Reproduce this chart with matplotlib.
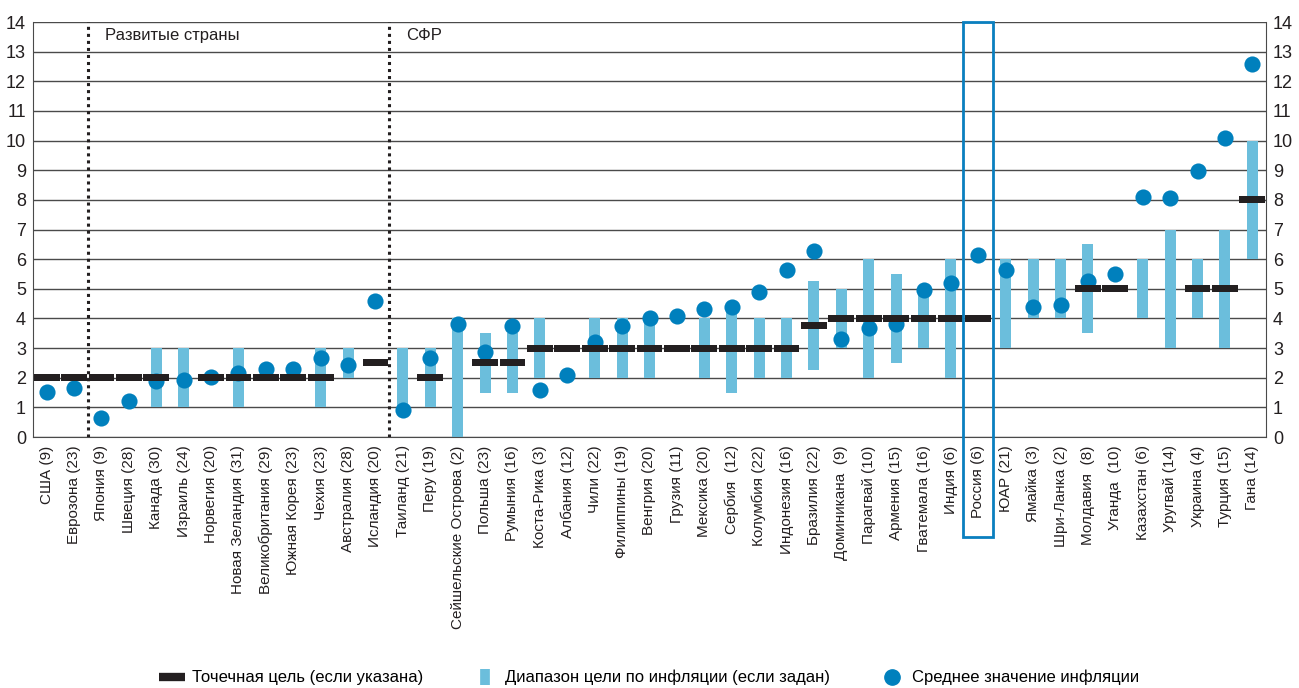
import numpy as np
import matplotlib
matplotlib.use("Agg")
from matplotlib import pyplot as plt
from matplotlib.patches import Rectangle
from matplotlib.lines import Line2D

plt.rcParams['font.family'] = ['Liberation Sans', 'DejaVu Sans']

countries = [
    'США (9)', 'Еврозона (23)', 'Япония (9)', 'Швеция (28)', 'Канада (30)',
    'Израиль (24)', 'Норвегия (20)', 'Новая Зеландия (31)', 'Великобритания (29)',
    'Южная Корея (23)', 'Чехия (23)', 'Австралия (28)', 'Исландия (20)',
    'Таиланд (21)', 'Перу (19)', 'Сейшельские Острова (2)', 'Польша (23)',
    'Румыния (16)', 'Коста-Рика (3)', 'Албания (12)', 'Чили (22)',
    'Филиппины (19)', 'Венгрия (20)', 'Грузия (11)', 'Мексика (20)',
    'Сербия  (12)', 'Колумбия (22)', 'Индонезия (16)', 'Бразилия (22)',
    'Доминикана  (9)', 'Парагвай (10)', 'Армения (15)', 'Гватемала (16)',
    'Индия (6)', 'Россия (6)', 'ЮАР (21)', 'Ямайка (3)', 'Шри-Ланка (2)',
    'Молдавия  (8)', 'Уганда  (10)', 'Казахстан (6)', 'Уругвай (14)',
    'Украина (4)', 'Турция (15)', 'Гана (14)',
]
nan = np.nan
# point target (nan = none)
target = [2, 2, 2, 2, 2, nan, 2, 2, 2, 2, 2, nan, 2.5,
          nan, 2, nan, 2.5, 2.5, 3, 3, 3, 3, 3, 3, 3, 3, 3, 3, 3.75,
          4, 4, 4, 4, 4, 4, nan, nan, nan, 5, 5, nan, nan, 5, 5, 8]
# target range (nan = none)
range_lo = [nan, nan, nan, nan, 1, 1, nan, 1, nan, nan, 1, 2, nan,
            1, 1, 0, 1.5, 1.5, 2, nan, 2, 2, 2, nan, 2, 1.5, 2, 2, 2.25,
            3, 2, 2.5, 3, 2, nan, 3, 4, 4, 3.5, nan, 4, 3, 4, 3, 6]
range_hi = [nan, nan, nan, nan, 3, 3, nan, 3, nan, nan, 3, 3, nan,
            3, 3, 4, 3.5, 3.5, 4, nan, 4, 4, 4, nan, 4, 4.5, 4, 4, 5.25,
            5, 6, 5.5, 5, 6, nan, 6, 6, 6, 6.5, nan, 6, 7, 6, 7, 10]
# average inflation
mean_infl = [1.51, 1.64, 0.63, 1.2, 1.88, 1.91, 2.04, 2.16, 2.29, 2.29, 2.65, 2.42, 4.58,
             0.92, 2.65, 3.8, 2.88, 3.76, 1.57, 2.08, 3.19, 3.73, 4.01, 4.07, 4.33,
             4.38, 4.9, 5.64, 6.27, 3.31, 3.69, 3.8, 4.96, 5.19, 6.14, 5.65, 4.4,
             4.45, 5.27, 5.49, 8.1, 8.07, 8.99, 10.09, 12.6]

group_labels = ['Развитые страны', 'СФР']
group_starts = [2, 13]
highlight = 'Россия (6)'

C_RANGE = '#6bbedc'
C_DOT = '#0080bd'
C_TARGET = '#231f20'

x = np.arange(len(countries))
target = np.array(target, float)
range_lo = np.array(range_lo, float)
range_hi = np.array(range_hi, float)

fig = plt.figure(figsize=(12.99, 6.88), dpi=100)
ax = fig.add_axes([0.0254, 0.3648, 0.9492, 0.6032])

ax.set_axisbelow(True)
ax.yaxis.grid(True, color='#4a4a4a', lw=1)

ax.bar(x, range_hi - range_lo, bottom=range_lo, width=0.4, color=C_RANGE, zorder=2)
ax.scatter(x, mean_infl, s=135, color=C_DOT, zorder=3, linewidths=0)
ax.bar(x, 0.24, bottom=target - 0.12, width=0.94, color=C_TARGET, zorder=4)

for s, lab in zip(group_starts, group_labels):
    ax.plot([s - 0.5, s - 0.5], [0, 14], color='#231f20', lw=2.2, ls=(0, (1, 1.3)), zorder=3)
    ax.text(s + 0.12, 13.56, lab, fontsize=12, va='center', ha='left', color='#231f20')

i = countries.index(highlight)
ax.add_patch(Rectangle((i - 0.55, -3.38), 1.1, 17.38, fill=False, ec='#0a7fbf',
                       lw=2, clip_on=False, zorder=5))

ax.set_xlim(-0.5, len(countries) - 0.5)
ax.set_ylim(0, 14)
ax.set_yticks(range(15))
ax.tick_params(axis='y', length=0, labelsize=13, pad=5, labelright=True,
               labelcolor='#231f20')
ax.set_xticks(x)
ax.set_xticklabels(countries, rotation=90, fontsize=11, color='#231f20')
ax.tick_params(axis='x', length=0, pad=6)
ax.spines['top'].set_visible(False)
for sp in ['left', 'right', 'bottom']:
    ax.spines[sp].set_color('#4a4a4a')

handles = [
    Line2D([0], [0], marker='_', color=C_TARGET, lw=0, markersize=19, markeredgewidth=6),
    Line2D([0], [0], marker='|', color=C_RANGE, lw=0, markersize=12, markeredgewidth=7),
    Line2D([0], [0], marker='o', color=C_DOT, lw=0, markersize=11),
]
labels = ['Точечная цель (если указана)', 'Диапазон цели по инфляции (если задан)',
          'Среднее значение инфляции']
fig.legend(handles, labels, loc='center', bbox_to_anchor=(0.5, 0.015), ncol=3,
           frameon=False, fontsize=12, handlelength=1.4,
           columnspacing=3.0, handletextpad=0.5)

fig.savefig('out.png', dpi=100)
